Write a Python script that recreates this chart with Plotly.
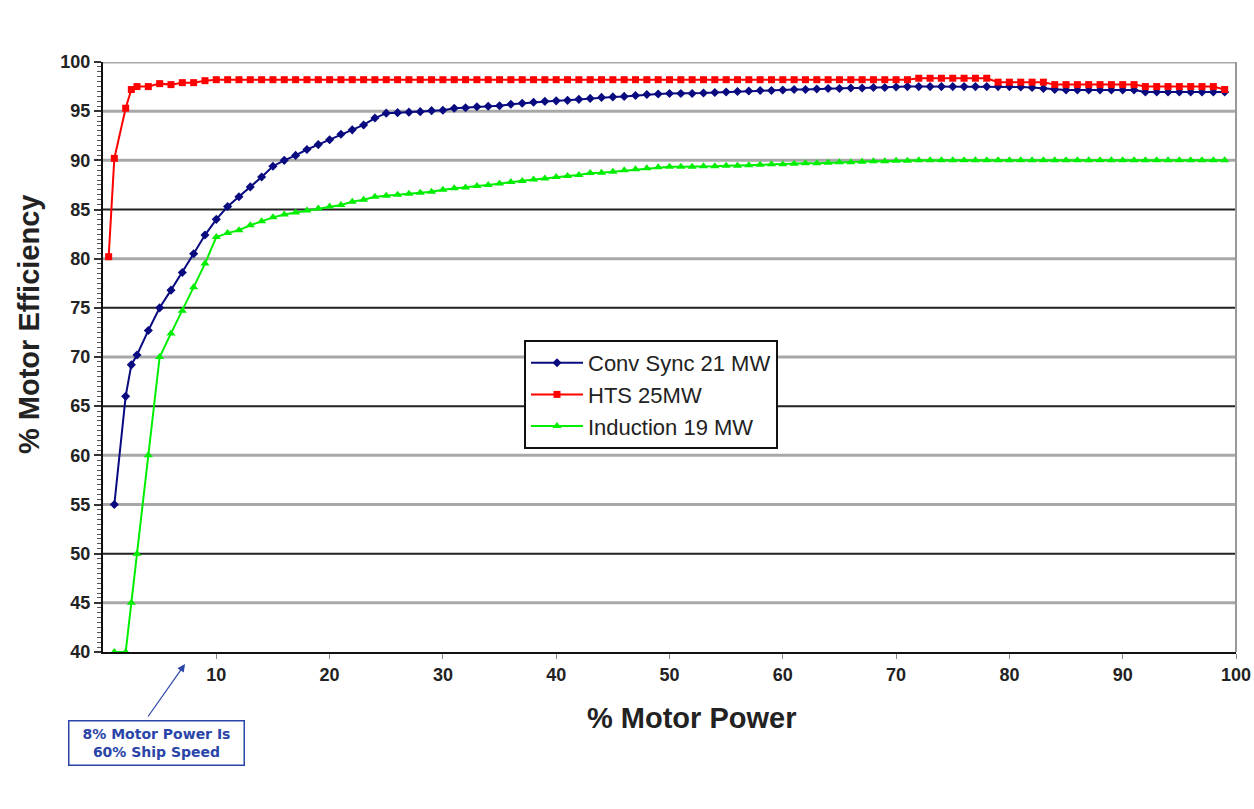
import plotly.graph_objects as go

# ---------------- data ----------------
power_hts = [0.5, 1, 2, 2.5] + list(range(3, 100))
power_conv = [1, 2, 2.5] + list(range(3, 100))
power_ind = [1, 2, 2.5] + list(range(3, 100))

eff_hts = [80.2, 90.2, 95.3, 97.2,
           97.5, 97.5, 97.8, 97.7, 97.9, 97.9, 98.1,            # 3-9
           98.2, 98.2, 98.2, 98.2, 98.2, 98.2, 98.2, 98.2, 98.2, 98.2,  # 10-19
           98.2, 98.2, 98.2, 98.2, 98.2, 98.2, 98.2, 98.2, 98.2, 98.2,  # 20-29
           98.2, 98.2, 98.2, 98.2, 98.2, 98.2, 98.2, 98.2, 98.2, 98.2,  # 30-39
           98.2, 98.2, 98.2, 98.2, 98.2, 98.2, 98.2, 98.2, 98.2, 98.2,  # 40-49
           98.2, 98.2, 98.2, 98.2, 98.2, 98.2, 98.2, 98.2, 98.2, 98.2,  # 50-59
           98.2, 98.2, 98.2, 98.2, 98.2, 98.2, 98.2, 98.2, 98.2, 98.2,  # 60-69
           98.2, 98.2, 98.35, 98.35, 98.35, 98.35, 98.35, 98.35, 98.35, 97.95,  # 70-79
           97.95, 97.95, 97.95, 97.95, 97.7, 97.7, 97.7, 97.7, 97.7, 97.7,  # 80-89
           97.7, 97.7, 97.5, 97.5, 97.5, 97.5, 97.5, 97.5, 97.5, 97.2]   # 90-99

eff_conv = [55.0, 66.0, 69.2,
            70.2, 72.7, 75.0, 76.8, 78.6, 80.5, 82.4,                  # 3-9
            84.0, 85.3, 86.3, 87.3, 88.3, 89.4, 90.0, 90.5, 91.1, 91.6,  # 10-19
            92.1, 92.65, 93.1, 93.6, 94.3, 94.8, 94.85, 94.9, 94.95, 95.05,  # 20-29
            95.1, 95.3, 95.35, 95.45, 95.5, 95.55, 95.7, 95.8, 95.9, 96.0,  # 30-39
            96.05, 96.1, 96.2, 96.3, 96.4, 96.45, 96.5, 96.6, 96.7, 96.75,  # 40-49
            96.8, 96.8, 96.8, 96.85, 96.9, 96.95, 97.0, 97.05, 97.1, 97.1,  # 50-59
            97.15, 97.2, 97.2, 97.25, 97.3, 97.3, 97.35, 97.35, 97.4, 97.4,  # 60-69
            97.45, 97.5, 97.5, 97.5, 97.5, 97.5, 97.5, 97.5, 97.5, 97.5,  # 70-79
            97.5, 97.45, 97.4, 97.3, 97.2, 97.15, 97.15, 97.15, 97.15, 97.15,  # 80-89
            97.15, 97.15, 96.95, 96.95, 96.95, 96.95, 96.95, 96.95, 96.95, 96.95]  # 90-99

eff_ind = [40.0, 40.0, 45.0,
           50.0, 60.0, 70.0, 72.4, 74.7, 77.1, 79.5,                  # 3-9
           82.2, 82.6, 82.9, 83.4, 83.8, 84.2, 84.5, 84.7, 84.9, 85.1,  # 10-19
           85.3, 85.45, 85.8, 86.0, 86.3, 86.4, 86.5, 86.6, 86.7, 86.8,  # 20-29
           87.0, 87.15, 87.25, 87.4, 87.5, 87.65, 87.8, 87.9, 88.05, 88.15,  # 30-39
           88.3, 88.4, 88.5, 88.7, 88.75, 88.85, 89.0, 89.1, 89.2, 89.3,  # 40-49
           89.35, 89.35, 89.35, 89.4, 89.4, 89.45, 89.45, 89.5, 89.55, 89.6,  # 50-59
           89.6, 89.65, 89.7, 89.7, 89.75, 89.8, 89.8, 89.85, 89.9, 89.9,  # 60-69
           89.95, 89.95, 90.0, 90.0, 90.0, 90.0, 90.0, 90.0, 90.0, 90.0,  # 70-79
           90.0, 90.0, 90.0, 90.0, 90.0, 90.0, 90.0, 90.0, 90.0, 90.0,  # 80-89
           90.0, 90.0, 90.0, 90.0, 90.0, 90.0, 90.0, 90.0, 90.0, 90.0]  # 90-99

series_names = ["Conv Sync 21 MW", "HTS 25MW", "Induction 19 MW"]
x_ticks = [10, 20, 30, 40, 50, 60, 70, 80, 90, 100]
y_ticks = [40, 45, 50, 55, 60, 65, 70, 75, 80, 85, 90, 95, 100]
grid_dark = [50, 65, 75, 85]
grid_light = [45, 55, 60, 70, 80, 90, 95, 100]
x_title = "% Motor Power"
y_title = "% Motor Efficiency"
note_text = "8% Motor Power Is<br>60% Ship Speed"

# ---------------- figure ----------------
W, H = 1254, 809
L, R, T, B = 103, 18, 62, 157
pw, ph = W - L - R, H - T - B


def px_x(px):  # page pixel -> paper x
    return (px - L) / pw


def px_y(py):  # page pixel -> paper y
    return 1 - (py - T) / ph


fig = go.Figure()
fig.add_trace(go.Scatter(x=power_conv, y=eff_conv, name=series_names[0], mode="lines+markers",
                         line=dict(color="#0a0a80", width=2),
                         marker=dict(symbol="diamond", size=7, color="#0a0a80")))
fig.add_trace(go.Scatter(x=power_hts, y=eff_hts, name=series_names[1], mode="lines+markers",
                         line=dict(color="#ff0000", width=2),
                         marker=dict(symbol="square", size=7, color="#ff0000")))
fig.add_trace(go.Scatter(x=power_ind, y=eff_ind, name=series_names[2], mode="lines+markers",
                         line=dict(color="#00ee00", width=2),
                         marker=dict(symbol="triangle-up", size=8, color="#00ee00")))

for g in grid_light:
    fig.add_shape(type="line", xref="paper", yref="y", x0=0, x1=1, y0=g, y1=g,
                  line=dict(color="#a8a8a8", width=3), layer="below")
for g in grid_dark:
    fig.add_shape(type="line", xref="paper", yref="y", x0=0, x1=1, y0=g, y1=g,
                  line=dict(color="#222222", width=2), layer="below")
fig.add_shape(type="line", xref="paper", yref="paper", x0=1, x1=1, y0=0, y1=1,
              line=dict(color="#999999", width=2), layer="below")

fig.add_annotation(xref="paper", yref="paper", x=px_x(691), y=px_y(718), text=x_title,
                   showarrow=False, xanchor="center", yanchor="middle",
                   font=dict(size=29, weight="bold", color="#222222"))
fig.add_annotation(xref="paper", yref="paper", x=px_x(29), y=px_y(325), text=y_title,
                   showarrow=False, xanchor="center", yanchor="middle", textangle=-90,
                   font=dict(size=29, weight="bold", color="#222222"))

fig.add_annotation(xref="paper", yref="paper", x=px_x(156), y=px_y(742.5),
                   text=note_text, showarrow=False, xanchor="center", yanchor="middle",
                   font=dict(family="DejaVu Sans", size=14, color="#2a45a8", weight="bold"),
                   bordercolor="#2a45a8", borderwidth=1.5, borderpad=1,
                   width=172, height=41, bgcolor="white")
fig.add_annotation(xref="x", yref="paper", x=7.24, y=px_y(664), text="",
                   showarrow=True, ax=-38, ay=54, arrowhead=2, arrowsize=1.3,
                   arrowwidth=1.2, arrowcolor="#2a45a8")

fig.update_layout(
    width=W, height=H,
    margin=dict(l=L, r=R, t=T, b=B, autoexpand=False),
    paper_bgcolor="white", plot_bgcolor="white",
    font=dict(family="Liberation Sans, Arial, sans-serif", color="#1a1a1a"),
    showlegend=True,
    legend=dict(x=px_x(524), y=px_y(340), xanchor="left", yanchor="top",
                bgcolor="white", bordercolor="#111111", borderwidth=2,
                itemwidth=52,
                font=dict(size=22, color="#222222"), tracegroupgap=0),
    xaxis=dict(range=[0, 100], tickvals=x_ticks, showgrid=False, zeroline=False,
               showline=True, linecolor="#111111", linewidth=2, automargin=False,
               ticks="outside", ticklen=5, tickcolor="#888888", tickwidth=1,
               tickfont=dict(size=18, color="#222222", weight="bold")),
    yaxis=dict(range=[40, 100], tickvals=y_ticks, showgrid=False, zeroline=False,
               showline=True, linecolor="#111111", linewidth=2, automargin=False,
               ticks="outside", ticklen=7, tickcolor="#333333", tickwidth=1.5,
               minor=dict(dtick=0.5, ticks="outside", ticklen=4, tickcolor="#555555", tickwidth=1),
               tickfont=dict(size=18, color="#222222", weight="bold")),
)

fig.write_html("out.html", config={"displayModeBar": False},
               post_script="document.body.style.margin='0';document.body.style.overflow='hidden';")
